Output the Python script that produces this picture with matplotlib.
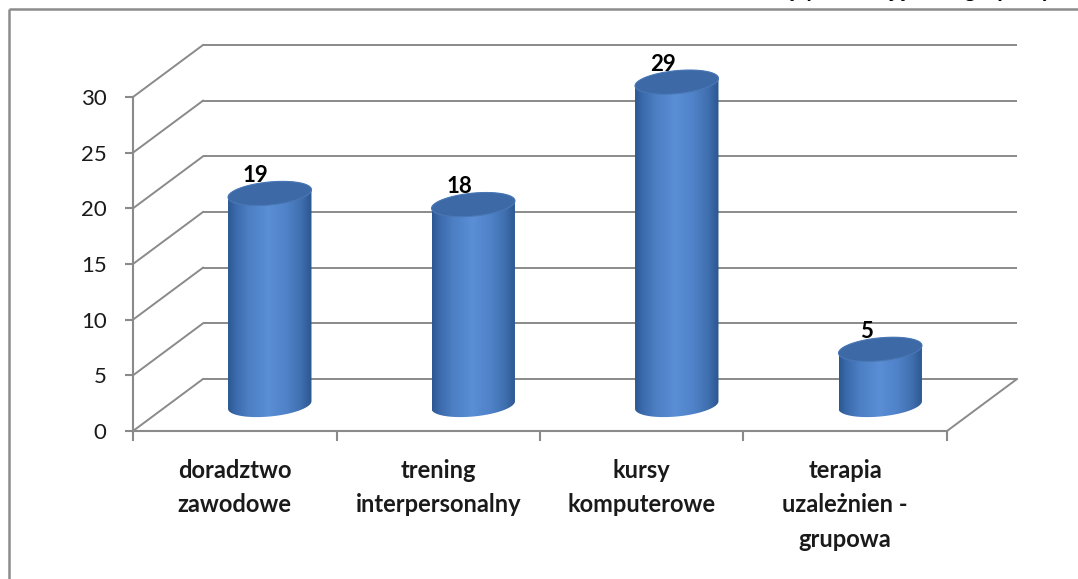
import numpy as np
import matplotlib
matplotlib.use("Agg")
import matplotlib.pyplot as plt
from matplotlib.patches import PathPatch, Polygon
from matplotlib.path import Path
from matplotlib.colors import LinearSegmentedColormap

# ---- data ----
categories = ["doradztwo\nzawodowe", "trening\ninterpersonalny",
              "kursy\nkomputerowe", "terapia\nuzależnien -\ngrupowa"]
values = [19, 18, 29, 5]
y_ticks = [0, 5, 10, 15, 20, 25, 30]
title = "Liczba osób uczestniczących w zajęciach grupowych"
title_prefix = "Liczba osób uczestniczących w za"

plt.rcParams['font.family'] = ['Lato', 'DejaVu Sans']

W, H = 1078, 579
fig = plt.figure(figsize=(W / 100, H / 100), dpi=100)
fig.patch.set_facecolor('white')

GRID = '#8a8a8a'
BACK = np.array([70.0, 52.0])   # depth offset in pixels
MID = BACK / 2.0

# front plane axes
ax = fig.add_axes([133 / W, (H - 431) / H, 814 / W, 334 / H])
ax.patch.set_alpha(0)
ax.set_xlim(0, len(categories))
ax.set_ylim(0, 30)
for s in ['top', 'right']:
    ax.spines[s].set_visible(False)
for s in ['left', 'bottom']:
    ax.spines[s].set_color(GRID)
    ax.spines[s].set_linewidth(1.5)
ax.set_yticks(y_ticks)
ax.set_yticklabels([str(t) for t in y_ticks])
ax.tick_params(axis='y', direction='out', length=6, width=1.5, color=GRID,
               labelsize=16, pad=13, labelcolor='#1a1a1a')
ax.set_xticks(np.arange(len(categories) + 1))
ax.set_xticklabels([])
ax.set_xticks(np.arange(len(categories)) + 0.5, minor=True)
ax.set_xticklabels(categories, minor=True)
ax.tick_params(axis='x', which='major', direction='out', length=7, width=1.5, color=GRID)
ax.tick_params(axis='x', which='minor', length=0, labelsize=17, pad=20, labelcolor='#1a1a1a')
for lbl in ax.get_xticklabels(minor=True):
    lbl.set_fontweight('bold')
    lbl.set_linespacing(1.6)
    lbl.set_verticalalignment('top')

# overlay axes in pixel units
ov = fig.add_axes([0, 0, 1, 1])
ov.patch.set_alpha(0)
ov.axis('off')
ov.set_xlim(0, W)
ov.set_ylim(0, H)


def to_ov(x, y, off=(0.0, 0.0)):
    d = ax.transData.transform((x, y)) + np.asarray(off)
    return ov.transData.inverted().transform(d)


# frame
ov.plot([9, 9], [0, H - 9], color='#8c8c8c', lw=1.8, solid_capstyle='butt', zorder=1)
ov.plot([9, W], [H - 9, H - 9], color='#8c8c8c', lw=1.8, solid_capstyle='butt', zorder=1)

# back wall gridlines and side wall diagonals
n = len(categories)
for v in y_ticks:
    p0 = to_ov(0, v, BACK)
    p1 = to_ov(n, v, BACK)
    ov.plot([p0[0], p1[0]], [p0[1], p1[1]], color=GRID, lw=1.4, zorder=1,
            solid_capstyle='butt')
    f0 = to_ov(0, v)
    ov.plot([f0[0], p0[0]], [f0[1], p0[1]], color=GRID, lw=1.4, zorder=1)
# floor right edge
r0 = to_ov(n, 0)
r1 = to_ov(n, 0, BACK)
ov.plot([r0[0], r1[0]], [r0[1], r1[1]], color=GRID, lw=1.4, zorder=1)

# cylinders
body_cmap = LinearSegmentedColormap.from_list('cyl', [
    (0.0, '#2b5792'), (0.08, '#3a69aa'), (0.25, '#4c7fc4'), (0.48, '#5a8ed5'),
    (0.7, '#4f82c8'), (0.88, '#3f6eae'), (1.0, '#2b5690')])
half_w = 0.205
b = 11.5
shear = 0.09
t_low = np.linspace(np.pi, 2 * np.pi, 60)
t_up = np.linspace(0, np.pi, 60)
t_full = np.linspace(0, 2 * np.pi, 120)

for i, v in enumerate(values):
    cb = to_ov(i + 0.5, 0, MID)
    ct = to_ov(i + 0.5, v, MID)
    left = to_ov(i + 0.5 - half_w, 0, MID)
    right = to_ov(i + 0.5 + half_w, 0, MID)
    cx = cb[0]
    a = (right[0] - left[0]) / 2.0
    yb, yt = cb[1], ct[1]

    xs_low = cx + a * np.cos(t_low)
    ys_low = yb + b * np.sin(t_low) + a * np.cos(t_low) * shear
    xs_up = cx + a * np.cos(t_up)
    ys_up = yt + b * np.sin(t_up) + a * np.cos(t_up) * shear
    verts = np.vstack([
        [[cx - a, yt - a * shear]],
        np.column_stack([xs_low, ys_low]),
        np.column_stack([xs_up, ys_up]),
    ])
    body = PathPatch(Path(verts), facecolor='none', edgecolor='none', zorder=3)
    ov.add_patch(body)
    grad = np.linspace(0, 1, 256).reshape(1, -1)
    im = ov.imshow(grad, extent=[cx - a, cx + a, yb - b - a * shear - 2, yt + b + a * shear + 2],
                   aspect='auto', cmap=body_cmap, zorder=3, interpolation='bilinear')
    im.set_clip_path(body)

    xs_t = cx + a * np.cos(t_full)
    ys_t = yt + b * np.sin(t_full) + a * np.cos(t_full) * shear
    top = Polygon(np.column_stack([xs_t, ys_t]), closed=True, facecolor='#3d69a6',
                  edgecolor='#4a78b6', lw=0.8, zorder=4)
    ov.add_patch(top)

    ov.text(cx - 14, yt + 18, str(v), ha='center', va='center', fontsize=16,
            fontweight='bold', color='black', zorder=5)

ov.set_xlim(0, W)
ov.set_ylim(0, H)

# title (cut off by the top edge, as in the reference)
renderer = fig.canvas.get_renderer()
tmp = ov.text(0, 0, title_prefix, fontsize=16, fontweight='bold')
pw = tmp.get_window_extent(renderer).width
tmp.remove()
ov.text(890 - pw, H + 3, title, fontsize=16, fontweight='bold', color='black',
        ha='left', va='baseline', zorder=5)

fig.savefig('out.png', dpi=100)
